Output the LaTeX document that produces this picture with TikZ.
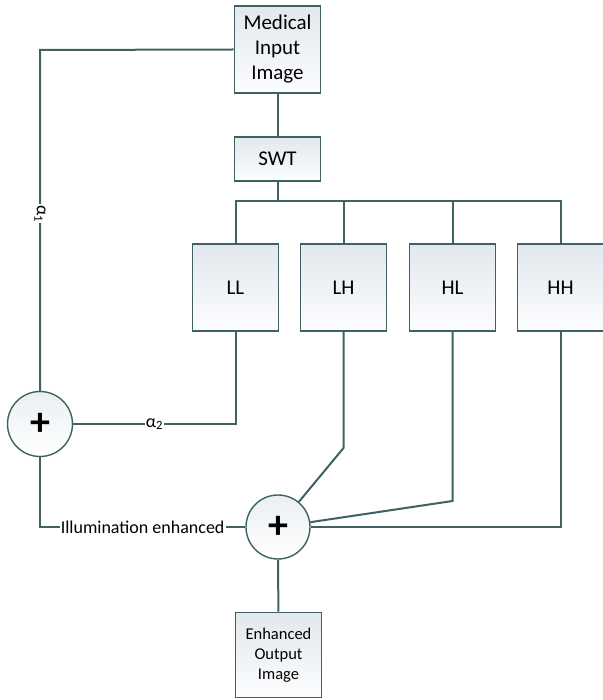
\documentclass[tikz,border=0pt]{standalone}
\usepackage{fontspec}
\setmainfont{Carlito}
\usepackage{tikz}
\usetikzlibrary{calc}
\usepackage{xcolor}
\definecolor{linecol}{RGB}{62,98,98}
\definecolor{boxtop}{RGB}{226,232,238}
\definecolor{boxbot}{RGB}{252,253,254}
\tikzset{
  block/.style={rectangle,draw=linecol,line width=1.7pt,top color=boxtop,bottom color=boxbot,
    minimum width=86pt,minimum height=87pt,inner sep=2pt,align=center,font=\fontsize{21}{25}\selectfont},
  sumnode/.style={circle,draw=linecol,line width=1.4pt,top color=boxtop!70,bottom color=white,
    minimum size=65pt,inner sep=0pt,font=\fontsize{40}{40}\bfseries},
  link/.style={draw=linecol,line width=2pt},
  wlabel/.style={fill=white,inner sep=1pt,font=\fontsize{18}{20}\selectfont}
}

\begin{document}
\begin{tikzpicture}[x=1pt,y=-1pt]
  \useasboundingbox (0,0) rectangle (602,700);

  % --- Input and transform ---
  \node[block] (input) at (277.5,49.5) {Medical\\Input\\Image};
  \node[block,minimum height=44pt] (swt) at (277.5,159) {SWT};

  % --- Sub-bands ---
  \node[block] (LL) at (235.5,287.5) {LL};
  \node[block] (LH) at (343.5,287.5) {LH};
  \node[block] (HL) at (452.5,287.5) {HL};
  \node[block] (HH) at (560.5,287.5) {HH};

  % --- Adders and output ---
  \node[sumnode] (sumA) at (40,424) {+};
  \node[sumnode,minimum size=64pt] (sumB) at (278,527) {+};
  \node[block,minimum height=85pt,font=\fontsize{16.5}{20}\selectfont] (output) at (278.5,655)
    {Enhanced\\Output\\Image};

  % --- Bend points ---
  \coordinate (bus)  at (277.5,201);
  \coordinate (lhk)  at (343.5,448);
  \coordinate (hlk)  at (452.5,501);
  \coordinate (fbk)  at (40,50);

  % --- Input to SWT to sub-bands ---
  \draw[link] (input) -- (swt);
  \draw[link] (swt) -- (bus);
  \draw[link] (LL.north) |- (bus) -| (HH.north);
  \draw[link] (LH.north) -- (LH.north |- bus);
  \draw[link] (HL.north) -- (HL.north |- bus);

  % --- Illumination path ---
  \draw[link] (input.west) -- (fbk) -- node[wlabel,rotate=-90,pos=0.48]{α\textsubscript{1}} (sumA);
  \draw[link] (LL.south) |- node[wlabel,pos=0.75]{α\textsubscript{2}} (sumA);
  \draw[link] (sumA) |- node[wlabel,pos=0.75]{Illumination enhanced} (sumB);

  % --- Detail bands to second adder ---
  \draw[link] (LH.south) -- (lhk) -- (sumB);
  \draw[link] (HL.south) -- (hlk) -- (sumB);
  \draw[link] (HH.south) |- (sumB);

  % --- Output ---
  \draw[link] (sumB) -- (output);
\end{tikzpicture}
\end{document}
